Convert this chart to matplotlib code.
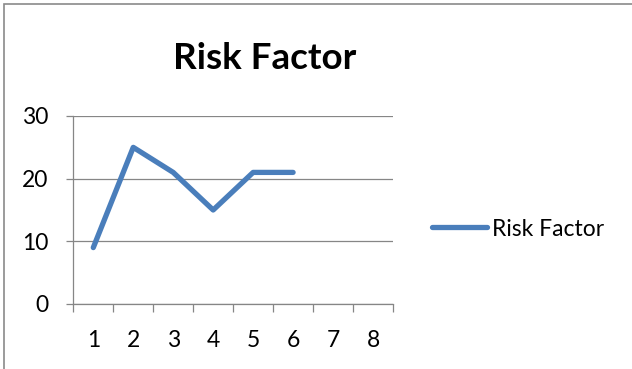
import matplotlib
matplotlib.use("Agg")
import matplotlib.pyplot as plt
from matplotlib.patches import Rectangle
import numpy as np

categories = [1, 2, 3, 4, 5, 6, 7, 8]
risk_factor = [9, 25, 21, 15, 21, 21]
y_ticks = [0, 10, 20, 30]
series_name = "Risk Factor"
title = "Risk Factor"

FONT = ["Lato", "DejaVu Sans"]
plt.rcParams["font.family"] = FONT

LINE_BLUE = "#4A7EBB"
GRID_GRAY = "#868686"

W, H, DPI = 632, 369, 100
fig = plt.figure(figsize=(W / DPI, H / DPI), dpi=DPI, facecolor="white")

# plot area in pixel coordinates
x0, x1 = 73.3, 393.0
y_top, y_bot = 116.0, 304.0
ax = fig.add_axes([x0 / W, 1 - y_bot / H, (x1 - x0) / W, (y_bot - y_top) / H])

cat_pos = np.arange(1, len(categories) + 1)
ax.plot(cat_pos[:len(risk_factor)], risk_factor, color=LINE_BLUE, lw=3.8,
        solid_capstyle="round", solid_joinstyle="round", label=series_name,
        zorder=3)

ax.set_xlim(0.5, len(categories) + 0.5)
ax.set_ylim(y_ticks[0], y_ticks[-1])

# category boundaries carry the tick marks, centres carry the labels
ax.set_xticks(np.arange(0.5, len(categories) + 1, 1))
ax.set_xticklabels([])
ax.set_xticks(cat_pos, minor=True)
ax.set_xticklabels([str(c) for c in categories], minor=True)
ax.tick_params(axis="x", which="major", direction="out", length=5.8,
               width=0.9, color=GRID_GRAY)
ax.tick_params(axis="x", which="minor", length=0, pad=18.5, labelsize=16.5)

ax.set_yticks(y_ticks)
ax.set_yticklabels([str(v) for v in y_ticks])
ax.tick_params(axis="y", direction="out", length=5.2, width=0.9,
               color=GRID_GRAY, pad=13, labelsize=16.5)

ax.yaxis.grid(True, color=GRID_GRAY, lw=0.9)
ax.set_axisbelow(True)
for side in ("top", "right"):
    ax.spines[side].set_visible(False)
for side in ("left", "bottom"):
    ax.spines[side].set_color(GRID_GRAY)
    ax.spines[side].set_linewidth(0.9)

fig.text(264.5 / W, 1 - 69 / H, title, ha="center", va="baseline",
         fontsize=26.5, fontweight="bold", family=FONT)

ax.legend(loc="center left", bbox_to_anchor=(432 / W, 1 - 229 / H),
          bbox_transform=fig.transFigure, frameon=False, fontsize=16.5,
          handlelength=2.4, handletextpad=0.2, borderaxespad=0,
          borderpad=0)

# chart frame
fig.patches.append(Rectangle((4 / W, -0.05), 1.2, 1 - 4 / H + 0.05,
                             transform=fig.transFigure, fill=False,
                             edgecolor="#8A8A8A", lw=1.2))

fig.savefig("out.png", dpi=DPI, facecolor="white")
